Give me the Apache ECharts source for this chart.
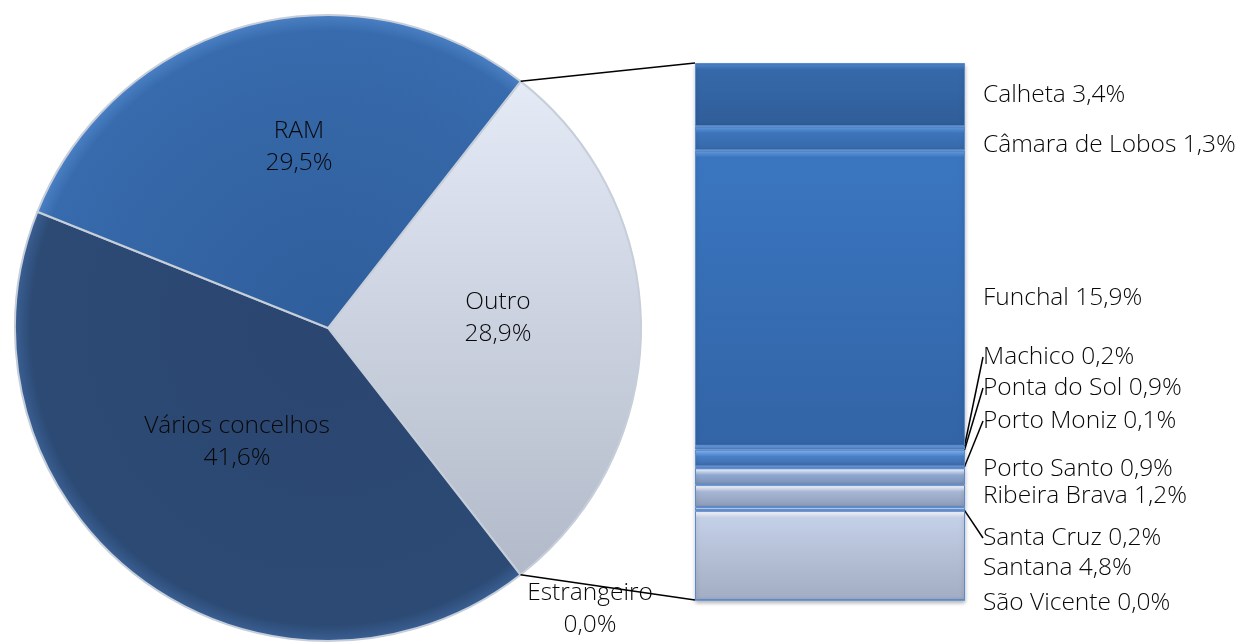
<!DOCTYPE html>
<html>
<head>
<meta charset="utf-8">
<script src="https://cdn.jsdelivr.net/npm/echarts@6/dist/echarts.min.js"></script>
<style>
  html, body { margin: 0; padding: 0; background: #fff; }
  #chart { width: 1239px; height: 643px; }
</style>
</head>
<body>
<div id="chart"></div>
<script>
// pie slices (clockwise from the top edge of "Outro")
const pieNames = ["Outro", "Estrangeiro", "Vários concelhos", "RAM"];
const pieValues = [28.9, 0.0, 41.6, 29.5];

// breakdown of "Outro", top to bottom
const barNames = ["Calheta", "Câmara de Lobos", "Funchal", "Machico", "Ponta do Sol",
  "Porto Moniz", "Porto Santo", "Ribeira Brava", "Santa Cruz", "Santana", "São Vicente"];
const barValues = [3.4, 1.3, 15.9, 0.2, 0.9, 0.1, 0.9, 1.2, 0.2, 4.8, 0.0];

// layout
const PIE_C = [328, 328], PIE_R = 313, START = 52;
const GRID = { left: 695, top: 63, width: 270, height: 537 };
const pieLabelPos = [[498, 318], [590, 609], [237, 442], [299, 147]];
const barLabelX = 983;
const barLabelY = [95, 145, 298, 357, 388, 421, 469, 496, 538, 568, 603];
const barHasLine = [false, false, false, true, true, true, false, false, true, false, false];

const pieColors = [
  { type: "linear", x: 0, y: 0, x2: 0, y2: 1, colorStops: [{ offset: 0, color: "#e4eaf6" }, { offset: 1, color: "#b2b9c8" }] },
  "#b2b9c8",
  { type: "radial", x: PIE_C[0], y: PIE_C[1], r: PIE_R, global: true, colorStops: [{ offset: 0, color: "#2b4670" }, { offset: 0.95, color: "#2c4a74" }, { offset: 1, color: "#3a5f93" }] },
  { type: "radial", x: PIE_C[0], y: PIE_C[1], r: PIE_R, global: true, colorStops: [{ offset: 0, color: "#2f5e9b" }, { offset: 0.6, color: "#3465a5" }, { offset: 0.95, color: "#376bad" }, { offset: 1, color: "#4a80c4" }] }
];
const barColors = [
  ["#4d86cc", "#3669aa", "#2f5d98"],
  ["#5c98e0", "#3d74bb", "#3568a8"],
  ["#5e9ae0", "#3a76c0", "#3264a6"],
  ["#6aa4ea", "#4a82cc", "#3c6eb0"],
  ["#7ab0f0", "#4a80c8", "#3c6aa8"],
  ["#7ab0f0", "#4a80c8", "#3c6aa8"],
  ["#e6f0ff", "#8ea8d0", "#7a90b4"],
  ["#f2f7ff", "#a6b6d4", "#8c9ab6"],
  ["#dbe8ff", "#7aa0d8", "#6a8cc0"],
  ["#f4f8ff", "#c4d0e8", "#a2acc2"],
  ["#f4f8ff", "#c4d0e8", "#a2acc2"]
];

const fmt = v => v.toFixed(1).replace(".", ",") + "%";
const font = { fontFamily: "Open Sans", fontWeight: 300, fontSize: 24.5, color: "#080808" };

const toRad = d => d * Math.PI / 180;
const outroEnd = START - pieValues[0] / 100 * 360;
const piePoint = a => [PIE_C[0] + PIE_R * Math.cos(toRad(a)), PIE_C[1] - PIE_R * Math.sin(toRad(a))];
const pTop = piePoint(START), pBot = piePoint(outroEnd);
const pxPerUnit = GRID.height / 28.9;

const barSeries = barNames.map((name, i) => {
  // bevel stripe a few pixels tall regardless of segment height
  const h = Math.max(barValues[i] * pxPerUnit, 1);
  const s1 = Math.min(2 / h, 0.3), s2 = Math.min(7 / h, 0.6);
  return {
    type: "bar",
    name: name,
    stack: "outro",
    barWidth: "100%",
    data: [barValues[i]],
    itemStyle: {
      color: { type: "linear", x: 0, y: 0, x2: 0, y2: 1, colorStops: [
        { offset: 0, color: barColors[i][1] },
        { offset: s1, color: barColors[i][0] },
        { offset: s2, color: barColors[i][1] },
        { offset: 1, color: barColors[i][2] }] },
      borderColor: "#5a8ad0",
      borderWidth: 1,
      shadowColor: "rgba(0,0,0,0.25)",
      shadowBlur: 4,
      shadowOffsetY: 2
    },
    label: Object.assign({
      show: true,
      position: "right",
      formatter: p => p.seriesName + " " + fmt(p.value)
    }, font),
    labelLine: { show: barHasLine[i], lineStyle: { color: "#000", width: 1.5 } },
    labelLayout: () => ({ x: barLabelX, y: barLabelY[i], align: "left", verticalAlign: "middle" })
  };
});

const chart = echarts.init(document.getElementById("chart"));
chart.setOption({
  animation: false,
  grid: GRID,
  xAxis: { type: "category", data: ["Outro"], show: false },
  yAxis: { type: "value", min: 0, max: 28.9, inverse: true, show: false },
  series: [{
    type: "pie",
    center: PIE_C,
    radius: PIE_R,
    startAngle: START,
    clockwise: true,
    avoidLabelOverlap: false,
    data: pieNames.map((n, i) => ({ name: n, value: pieValues[i], itemStyle: { color: pieColors[i] } })),
    itemStyle: { borderColor: "#c6ceda", borderWidth: 2 },
    label: Object.assign({
      position: "inside",
      lineHeight: 32,
      formatter: p => p.name + "\n" + fmt(p.value)
    }, font),
    labelLine: { show: false },
    labelLayout: p => ({ x: pieLabelPos[p.dataIndex][0], y: pieLabelPos[p.dataIndex][1], align: "center", verticalAlign: "middle" })
  }].concat(barSeries),
  graphic: [
    { type: "line", z: 100, shape: { x1: pTop[0], y1: pTop[1], x2: GRID.left, y2: GRID.top }, style: { stroke: "#000", lineWidth: 1.5 } },
    { type: "line", z: 100, shape: { x1: pBot[0], y1: pBot[1], x2: GRID.left, y2: GRID.top + GRID.height }, style: { stroke: "#000", lineWidth: 1.5 } }
  ]
});
</script>
</body>
</html>
